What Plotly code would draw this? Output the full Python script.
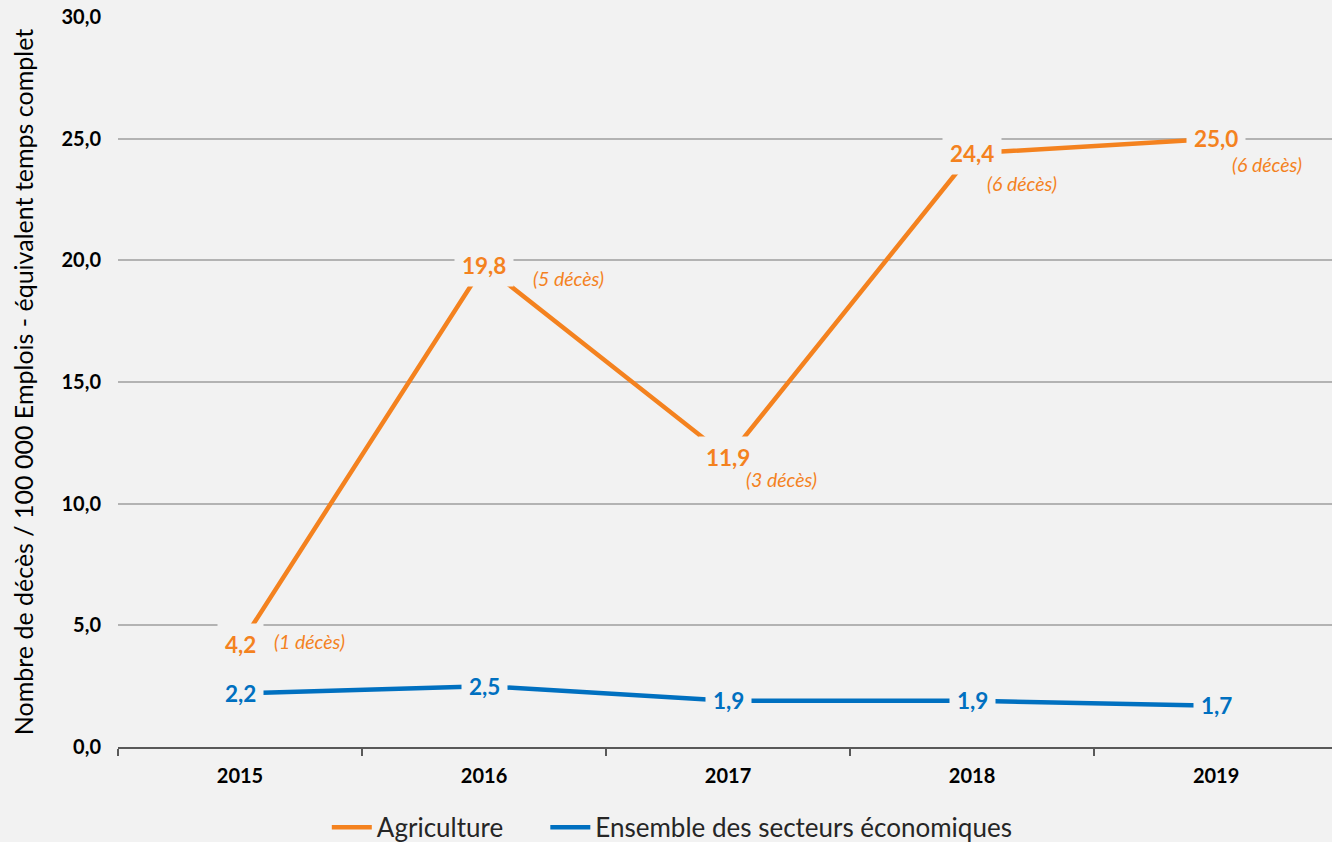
import plotly.graph_objects as go

years = ["2015", "2016", "2017", "2018", "2019"]
agriculture = [4.2, 19.8, 11.9, 24.4, 25.0]
ensemble = [2.2, 2.5, 1.9, 1.9, 1.7]
deces = [1, 5, 3, 6, 6]
y_ticks = [0, 5, 10, 15, 20, 25, 30]

ORANGE = "#F4821F"
BLUE = "#0070C0"
BG = "#F2F2F2"
FONT = "Lato"

# pixel offsets of the "(n décès)" notes relative to each point
note_dx = [32, 47, 16, 13, 14]
note_dy = [3, -13, -22, -30, -26]

fig = go.Figure()
fig.add_trace(go.Scatter(x=years, y=agriculture, mode="lines", name="Agriculture",
                         line=dict(color=ORANGE, width=4.5), legend="legend"))
fig.add_trace(go.Scatter(x=years, y=ensemble, mode="lines", name="Ensemble des secteurs économiques",
                         line=dict(color=BLUE, width=4.5), legend="legend2"))

def fmt(v):
    return f"{v:.1f}".replace(".", ",")

annotations = []
for i, v in enumerate(agriculture):
    annotations.append(dict(x=i, y=v, xref="x", yref="y", text=f"<b>{fmt(v)}</b>",
                            showarrow=False, bgcolor=BG, borderpad=7,
                            font=dict(family=FONT, size=22.5, color=ORANGE)))
    annotations.append(dict(x=i, y=v, xref="x", yref="y", text=f"<i>({deces[i]} décès)</i>",
                            showarrow=False, xanchor="left", xshift=note_dx[i], yshift=note_dy[i],
                            font=dict(family=FONT, size=19.5, color=ORANGE)))
for i, v in enumerate(ensemble):
    annotations.append(dict(x=i, y=v, xref="x", yref="y", text=f"<b>{fmt(v)}</b>",
                            showarrow=False, bgcolor=BG, borderpad=7,
                            font=dict(family=FONT, size=22.5, color=BLUE)))

legend_style = dict(orientation="h", y=-0.11, xanchor="left", yanchor="middle",
                    font=dict(family=FONT, size=26, color="#262626"),
                    itemwidth=40, bgcolor="rgba(0,0,0,0)")

fig.update_layout(
    width=1332, height=842,
    paper_bgcolor=BG, plot_bgcolor=BG,
    margin=dict(l=118, r=0, t=17, b=95, autoexpand=False),
    separators=", ",
    font=dict(family=FONT, color="#000000"),
    showlegend=True,
    legend=dict(x=0.172, **legend_style),
    legend2=dict(x=0.352, **legend_style),
    annotations=annotations,
)
fig.update_xaxes(type="category", range=[-0.5, 4.475], showgrid=False,
                 showline=True, linecolor="#595959", linewidth=2,
                 ticks="outside", tickson="boundaries", ticklen=7, tickcolor="#595959", tickwidth=2,
                 tickfont=dict(family=FONT, size=20, color="#000000", weight="bold"),
                 ticklabelstandoff=10, zeroline=False)
fig.update_yaxes(range=[0, 30], tickvals=y_ticks, tickformat=".1f",
                 showgrid=True, gridcolor="#B3B3B3", gridwidth=1.5,
                 showline=False, zeroline=False, ticks="",
                 tickfont=dict(family=FONT, size=20, color="#000000", weight="bold"),
                 ticklabelstandoff=16,
                 title=dict(text="Nombre de décès / 100 000 Emplois - équivalent temps complet",
                            font=dict(family=FONT, size=25, color="#000000"), standoff=20))

fig.write_html("out.html", config={"displayModeBar": False},
               post_script="document.body.style.margin='0';document.body.style.overflow='hidden';")
